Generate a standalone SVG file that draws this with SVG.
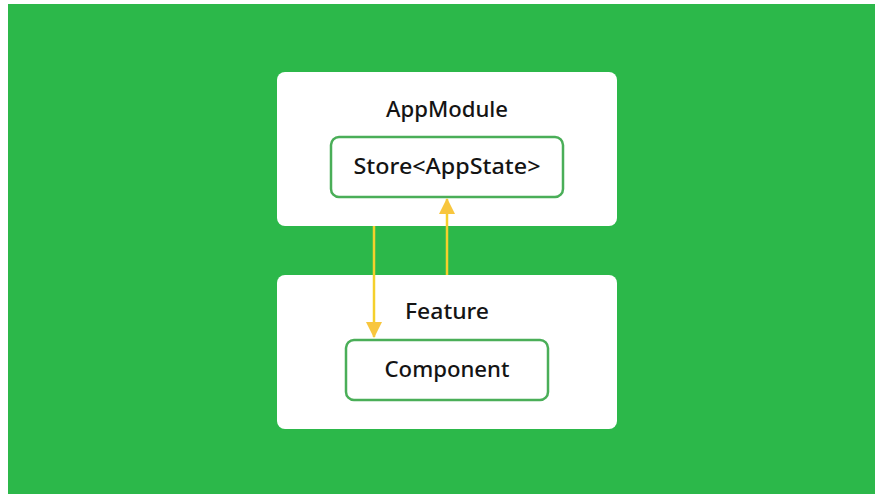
<svg xmlns="http://www.w3.org/2000/svg" width="875" height="494" viewBox="0 0 875 494">
  <defs>
    <style>
      .module { fill: #ffffff; }
      .inner { fill: #ffffff; stroke: #4aae58; stroke-width: 2.5; }
      .label { font-family: "Noto Sans", "DejaVu Sans", sans-serif; font-size: 22px; font-weight: 500; fill: #141414; text-anchor: middle; }
      .flow { stroke: #f5d02c; stroke-width: 2.5; fill: none; }
    </style>
    <marker id="head" viewBox="0 0 16 16" refX="15" refY="8" markerWidth="16" markerHeight="16" markerUnits="userSpaceOnUse" orient="auto">
      <path d="M0,0 L16,8 L0,16 z" fill="#f8c63e"/>
    </marker>
  </defs>

  <!-- backdrop -->
  <rect x="0" y="0" width="875" height="494" fill="#ffffff"/>
  <rect x="8" y="4" width="867" height="490" fill="#2cb84a"/>

  <g id="app-module">
    <rect class="module" x="277" y="72" width="340" height="154" rx="8"/>
    <text class="label" x="447" y="117" textLength="122" lengthAdjust="spacingAndGlyphs">AppModule</text>
  </g>

  <g id="store">
    <rect class="inner" x="331" y="137" width="232" height="60" rx="8"/>
    <text class="label" x="447" y="174" textLength="187" lengthAdjust="spacingAndGlyphs">Store&lt;AppState&gt;</text>
  </g>

  <g id="feature">
    <rect class="module" x="277" y="275" width="340" height="154" rx="8"/>
    <text class="label" x="447" y="319" textLength="84" lengthAdjust="spacingAndGlyphs">Feature</text>
  </g>

  <g id="component">
    <rect class="inner" x="346" y="340" width="202" height="60" rx="8"/>
    <text class="label" x="447" y="377" textLength="125" lengthAdjust="spacingAndGlyphs">Component</text>
  </g>

  <g id="connectors">
    <line class="flow" x1="374" y1="226" x2="374" y2="337" marker-end="url(#head)"/>
    <line class="flow" x1="447" y1="275" x2="447" y2="199" marker-end="url(#head)"/>
  </g>
</svg>
